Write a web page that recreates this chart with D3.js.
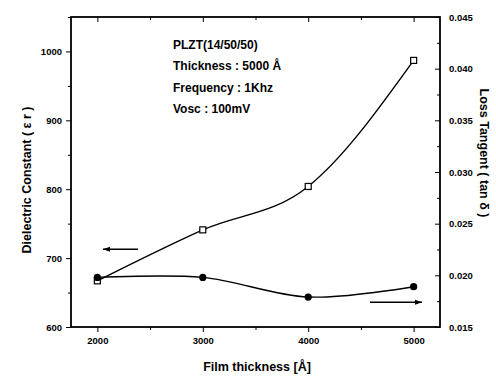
<!DOCTYPE html>
<html><head><meta charset="utf-8">
<script src="https://cdn.jsdelivr.net/npm/d3@7"></script>
<style>body{margin:0;background:#fff}svg{display:block}text{font-family:"Liberation Sans",Arial,sans-serif}</style>
</head><body><svg id="c" width="496" height="379"></svg>
<script>
const thickness = [2000, 3000, 4000, 5000];
const dielectric = [667, 741, 804, 987];
const lossTangent = [0.0198, 0.0198, 0.0179, 0.0189];
const xTicks = [2000, 3000, 4000, 5000];
const leftTicks = [600, 700, 800, 900, 1000];
const rightTicks = [0.015, 0.020, 0.025, 0.030, 0.035, 0.040, 0.045];
const infoLines = ["PLZT(14/50/50)", "Thickness : 5000 Å", "Frequency : 1Khz", "Vosc : 100mV"];

const svg = d3.select("#c");
const L = 71, R = 440, T = 17, B = 327;
const x = d3.scaleLinear().domain([1750, 5250]).range([L, R]);
const yL = d3.scaleLinear().domain([600, 1050]).range([B, T]);
const yR = d3.scaleLinear().domain([0.015, 0.045]).range([B, T]);

// frame
svg.append("rect").attr("x", L).attr("y", T).attr("width", R - L).attr("height", B - T)
  .attr("fill", "none").attr("stroke", "#000").attr("stroke-width", 1.8);

const tickFont = g => g.selectAll("text").attr("font-size", 9.5).attr("font-weight", "bold").attr("fill", "#000");

// bottom axis
const gB = svg.append("g").attr("transform", `translate(0,${B})`)
  .call(d3.axisBottom(x).tickValues(xTicks).tickFormat(d3.format("d")).tickSize(5).tickPadding(5));
gB.select(".domain").remove(); tickFont(gB);
svg.append("g").attr("transform", `translate(0,${B})`)
  .call(d3.axisBottom(x).tickValues([2500, 3500, 4500]).tickFormat("").tickSize(3)).select(".domain").remove();
// top axis (inward)
svg.append("g").attr("transform", `translate(0,${T})`)
  .call(d3.axisTop(x).tickValues(xTicks).tickFormat("").tickSize(-5)).select(".domain").remove();
svg.append("g").attr("transform", `translate(0,${T})`)
  .call(d3.axisTop(x).tickValues([2500, 3500, 4500]).tickFormat("").tickSize(-3)).select(".domain").remove();

// left axis
const gL = svg.append("g").attr("transform", `translate(${L},0)`)
  .call(d3.axisLeft(yL).tickValues(leftTicks).tickFormat(d3.format("d")).tickSize(5).tickPadding(4));
gL.select(".domain").remove(); tickFont(gL);
svg.append("g").attr("transform", `translate(${L},0)`)
  .call(d3.axisLeft(yL).tickValues([650, 750, 850, 950, 1050]).tickFormat("").tickSize(3)).select(".domain").remove();

// right axis (inward ticks)
const gR = svg.append("g").attr("transform", `translate(${R},0)`)
  .call(d3.axisRight(yR).tickValues(rightTicks).tickFormat(d3.format(".3f")).tickSize(-5).tickPadding(9));
gR.select(".domain").remove(); tickFont(gR);
svg.append("g").attr("transform", `translate(${R},0)`)
  .call(d3.axisRight(yR).tickValues([0.0175, 0.0225, 0.0275, 0.0325, 0.0375, 0.0425]).tickFormat("").tickSize(-3)).select(".domain").remove();

// curves
const lineD = d3.line().x((d, i) => x(thickness[i])).y(d => yL(d)).curve(d3.curveMonotoneX);
const lineT = d3.line().x((d, i) => x(thickness[i])).y(d => yR(d)).curve(d3.curveCatmullRom.alpha(0.5));
svg.append("path").attr("d", lineD(dielectric)).attr("fill", "none").attr("stroke", "#000").attr("stroke-width", 1.4);
svg.append("path").attr("d", lineT(lossTangent)).attr("fill", "none").attr("stroke", "#000").attr("stroke-width", 1.4);

svg.selectAll(".sq").data(dielectric).enter().append("rect")
  .attr("x", (d, i) => x(thickness[i]) - 3).attr("y", d => yL(d) - 3)
  .attr("width", 6).attr("height", 6).attr("fill", "#fff").attr("stroke", "#000").attr("stroke-width", 1.2);
svg.selectAll(".ci").data(lossTangent).enter().append("circle")
  .attr("cx", (d, i) => x(thickness[i])).attr("cy", d => yR(d)).attr("r", 3.6).attr("fill", "#000");

// arrows
function arrow(x1, x2, y) {
  svg.append("line").attr("x1", x1).attr("x2", x2).attr("y1", y).attr("y2", y).attr("stroke", "#000").attr("stroke-width", 1.5);
  const dir = x2 > x1 ? 1 : -1;
  svg.append("path").attr("d", `M${x2},${y}L${x2 - dir * 7},${y - 2.5}L${x2 - dir * 7},${y + 2.5}Z`).attr("fill", "#000");
}
arrow(138, 103, yL(713));
arrow(370, 422, yR(0.0174));

// info text
svg.selectAll(".info").data(infoLines).enter().append("text")
  .attr("x", 173).attr("y", (d, i) => 49 + i * 21.3)
  .attr("font-size", 12).attr("font-weight", "bold").attr("fill", "#000").text(d => d);

// axis titles
svg.append("text").attr("transform", `translate(31,${(T + B) / 2 + 8}) rotate(-90)`)
  .attr("text-anchor", "middle").attr("font-size", 12.5).attr("font-weight", "bold").text("Dielectric Constant ( ε r )");
svg.append("text").attr("transform", `translate(480,${153}) rotate(90)`)
  .attr("text-anchor", "middle").attr("font-size", 12.5).attr("font-weight", "bold").text("Loss Tangent ( tan δ )");
svg.append("text").attr("x", 257).attr("y", 371)
  .attr("text-anchor", "middle").attr("font-size", 12.5).attr("font-weight", "bold").text("Film thickness [Å]");
</script></body></html>
